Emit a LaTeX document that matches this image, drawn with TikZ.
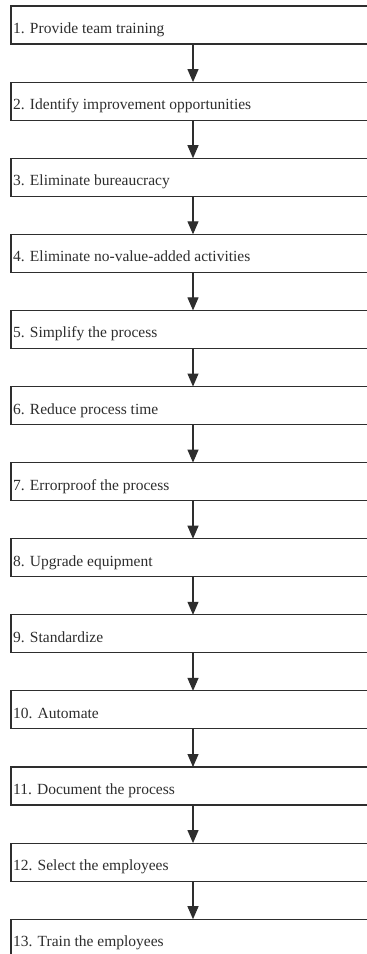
\documentclass[tikz,border=0pt]{standalone}
\usepackage{fontspec}
\setmainfont{Liberation Serif}
\usetikzlibrary{arrows.meta}
\definecolor{ink}{HTML}{2E2E2E}
\begin{document}
\begin{tikzpicture}[x=1pt,y=-1pt,
  stepbox/.style={draw=ink,line width=1.1pt,fill=white},
  steplabel/.style={anchor=base west,inner sep=0pt,font=\fontsize{15.5}{18}\selectfont,text=ink},
  flow/.style={draw=ink,line width=1.1pt,-{Triangle[width=11pt,length=13pt]}}]
\useasboundingbox (0,0) rectangle (367,954);
\clip (0,0) rectangle (367,954);
\fill[white] (0,0) rectangle (367,954);
\foreach \i/\t in {0/1. Provide team training,
                   1/2. Identify improvement opportunities,
                   2/3. Eliminate bureaucracy,
                   3/4. Eliminate no-value-added activities,
                   4/5. Simplify the process,
                   5/6. Reduce process time,
                   6/7. Errorproof the process,
                   7/8. Upgrade equipment,
                   8/9. Standardize,
                   9/10. Automate,
                   10/11. Document the process,
                   11/12. Select the employees,
                   12/13. Train the employees}{
  \pgfmathsetmacro{\top}{6+76.1*\i}
  \draw[stepbox] (11,\top) rectangle (390,\top+38);
  \coordinate (b\i-top) at (193,\top);
  \coordinate (b\i-bot) at (193,\top+38);
  \node[steplabel] (t\i) at (13,\top+27.5) {\t};
}
\foreach \i [evaluate=\i as \j using int(\i+1)] in {0,...,11}{
  \draw[flow] (b\i-bot) -- (b\j-top);
}
\end{tikzpicture}
\end{document}
